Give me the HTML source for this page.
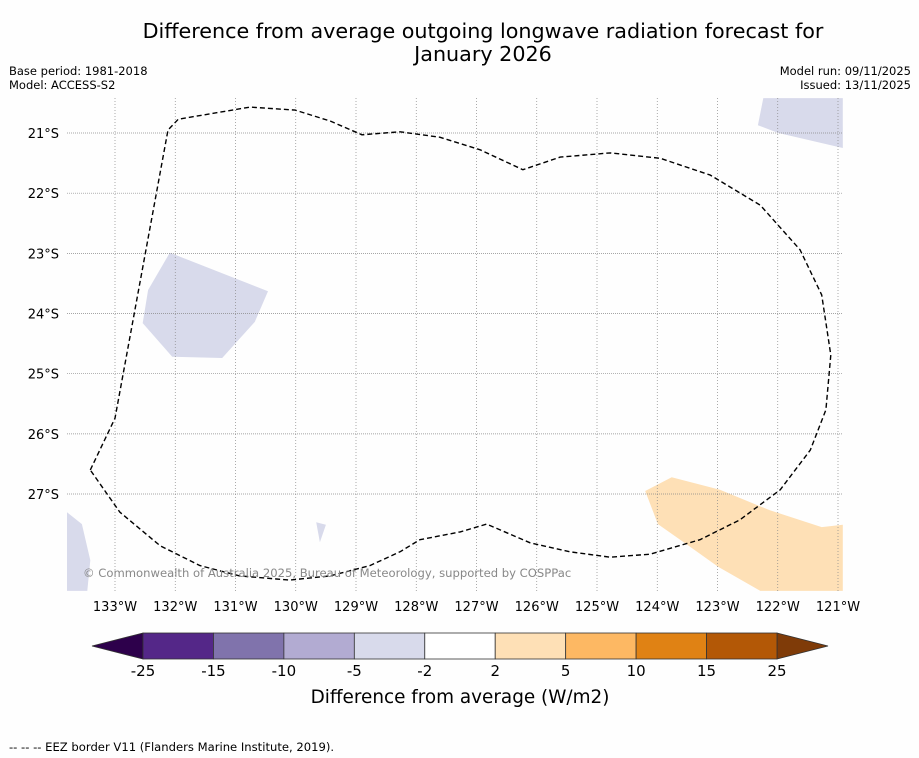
<!DOCTYPE html>
<html><head><meta charset="utf-8">
<style>
body{margin:0;background:#fff;width:919px;height:758px;overflow:hidden;font-family:"DejaVu Sans","Liberation Sans",sans-serif;}
svg{display:block}
</style></head>
<body>
<svg id="chart" width="919" height="758" viewBox="0 0 919 758">
<rect width="919" height="758" fill="#fefefe"/>
<text x="483" y="38" text-anchor="middle" font-size="20.7" fill="#000">Difference from average outgoing longwave radiation forecast for</text>
<text x="483" y="61" text-anchor="middle" font-size="20.7" fill="#000">January 2026</text>
<text x="9" y="75" font-size="11.5">Base period: 1981-2018</text>
<text x="9" y="89" font-size="11.5">Model: ACCESS-S2</text>
<text x="911" y="75" font-size="11.5" text-anchor="end">Model run: 09/11/2025</text>
<text x="911" y="89" font-size="11.5" text-anchor="end">Issued: 13/11/2025</text>
<g id="map"></g>
<g id="cbar"></g>
<text x="460" y="703" text-anchor="middle" font-size="18.4">Difference from average (W/m2)</text>
<text x="9" y="751" font-size="11.6">--  --  -- EEZ border V11 (Flanders Marine Institute, 2019).</text>
</svg>
<script>
const lonTicks=[-133,-132,-131,-130,-129,-128,-127,-126,-125,-124,-123,-122,-121];
const latTicks=[-21,-22,-23,-24,-25,-26,-27];
const eezLon=[-133.41,-133,-132.12,-131.95,-130.76,-130.01,-129.43,-128.90,-128.27,-127.61,-126.94,-126.23,-125.61,-124.78,-123.95,-123.12,-122.29,-121.63,-121.27,-121.12,-121.20,-121.46,-121.96,-122.63,-123.29,-124.12,-124.78,-125.45,-126.11,-126.83,-127.27,-127.94,-128.27,-128.77,-129.43,-130.10,-130.93,-131.59,-132.25,-132.92,-133.41];
const eezLat=[-26.60,-25.74,-20.95,-20.77,-20.57,-20.62,-20.80,-21.03,-20.98,-21.07,-21.28,-21.61,-21.40,-21.33,-21.42,-21.70,-22.20,-22.94,-23.69,-24.69,-25.60,-26.27,-26.93,-27.43,-27.76,-28.00,-28.05,-27.96,-27.81,-27.50,-27.63,-27.76,-27.96,-28.19,-28.36,-28.43,-28.36,-28.19,-27.86,-27.30,-26.60];
const anomLevels=[-3.5,-3.5,-3.5,-3.5,3.5];
const anomLon=[
 [-132.09,-130.46,-130.68,-131.22,-132.05,-132.54,-132.45],
 [-122.24,-120.92,-120.92,-121.99,-122.33],
 [-133.80,-133.55,-133.41,-133.46,-133.80],
 [-129.66,-129.50,-129.60],
 [-124.20,-123.76,-122.96,-122.13,-121.27,-120.92,-120.92,-122.29,-122.99,-123.52,-123.99]];
const anomLat=[
 [-22.99,-23.63,-24.14,-24.74,-24.72,-24.16,-23.61],
 [-20.42,-20.42,-21.25,-21.00,-20.87],
 [-27.30,-27.50,-28.10,-28.61,-28.61],
 [-27.47,-27.51,-27.80],
 [-26.95,-26.72,-26.93,-27.27,-27.55,-27.51,-28.61,-28.61,-28.21,-27.83,-27.50]];
const cbBounds=[-25,-15,-10,-5,-2,2,5,10,15,25];
const cbColors=["#2d004b","#542788","#8073ac","#b2abd2","#d8daeb","#ffffff","#fee0b6","#fdb863","#e08214","#b35806","#7f3b08"];

const NS="http://www.w3.org/2000/svg";
const X0=67,X1=843,Y0=98,Y1=591;
const xS=lon=>115+(lon+133)*60.25;
const yS=lat=>133+(-21-lat)*60.17;
function mk(tag,attrs,parent){const e=document.createElementNS(NS,tag);for(const k in attrs)e.setAttribute(k,attrs[k]);parent.appendChild(e);return e;}
function colorFor(v){if(v<cbBounds[0])return cbColors[0];for(let i=0;i<cbBounds.length-1;i++){if(v<cbBounds[i+1])return cbColors[i+1];}return cbColors[cbColors.length-1];}
const map=document.getElementById('map');
const defs=mk('defs',{},map);
const cp=mk('clipPath',{id:'clip'},defs);
mk('rect',{x:X0,y:Y0,width:X1-X0,height:Y1-Y0},cp);
const g=mk('g',{'clip-path':'url(#clip)'},map);
anomLon.forEach((lons,i)=>{
 const pts=lons.map((l,j)=>xS(l).toFixed(1)+','+yS(anomLat[i][j]).toFixed(1)).join(' ');
 const p=mk('polygon',{points:pts,fill:colorFor(anomLevels[i])},g);
 
 
});
lonTicks.forEach(l=>{
 const x=xS(l);
 const ln=mk('line',{x1:x,y1:Y0,x2:x,y2:Y1,stroke:'#888','stroke-width':0.7,'stroke-dasharray':'1,2'},g);
 
 
 const t=mk('text',{x:x,y:611,'text-anchor':'middle','font-size':13},map);
 t.textContent=Math.abs(l)+'°W';
 
 
});
latTicks.forEach(l=>{
 const y=yS(l);
 const ln=mk('line',{x1:X0,y1:y,x2:X1,y2:y,stroke:'#888','stroke-width':0.7,'stroke-dasharray':'1,1'},g);
 
 
 const t=mk('text',{x:59,y:y+5,'text-anchor':'end','font-size':13},map);
 t.textContent=Math.abs(l)+'°S';
 
 
});
const eez=mk('polyline',{points:eezLon.map((l,j)=>xS(l).toFixed(1)+','+yS(eezLat[j]).toFixed(1)).join(' '),fill:'none',stroke:'#000','stroke-width':1.4,'stroke-dasharray':'5,3','stroke-linejoin':'round'},g);


const cr=mk('text',{x:83,y:577,'font-size':11.6,fill:'#888'},map);
cr.textContent='© Commonwealth of Australia 2025, Bureau of Meteorology, supported by COSPPac';



const cb=document.getElementById('cbar');
const CX0=143,CX1=777,CY0=633,CY1=659,n=cbBounds.length-1,sw=(CX1-CX0)/n;
const lt=mk('polygon',{points:`92,646 ${CX0},${CY0} ${CX0},${CY1}`,fill:cbColors[0],stroke:'#333','stroke-width':0.8},cb);


const rt=mk('polygon',{points:`828,646 ${CX1},${CY0} ${CX1},${CY1}`,fill:cbColors[cbColors.length-1],stroke:'#333','stroke-width':0.8},cb);


for(let i=0;i<n;i++){
 const r=mk('rect',{x:CX0+i*sw,y:CY0,width:sw,height:CY1-CY0,fill:cbColors[i+1],stroke:'#333','stroke-width':0.8},cb);
 
 
}
cbBounds.forEach((b,i)=>{
 const t=mk('text',{x:CX0+i*sw,y:676,'text-anchor':'middle','font-size':15},cb);
 t.textContent=b;
 
 
});
</script>
</body></html>
